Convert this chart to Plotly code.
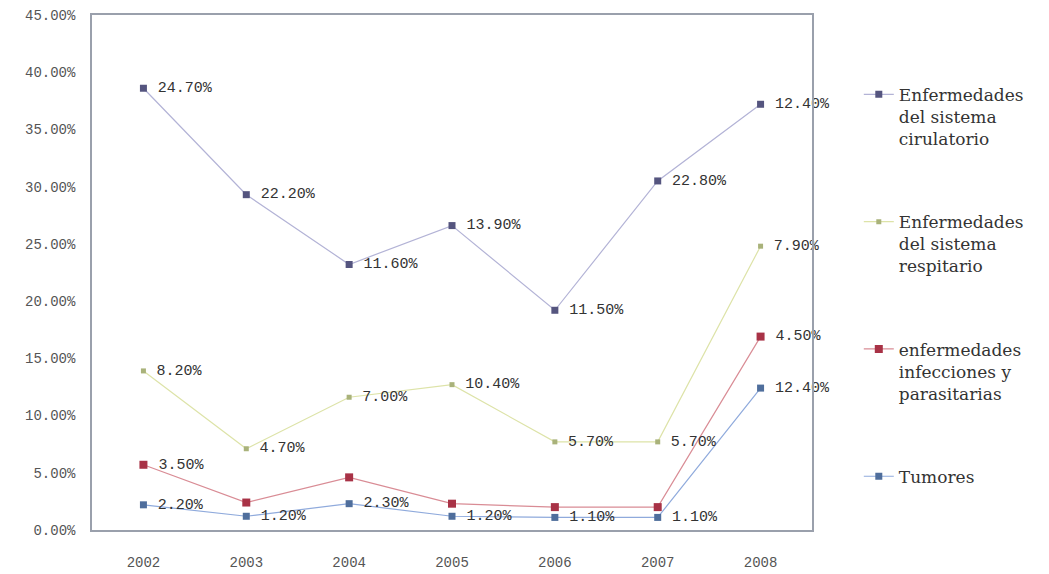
import plotly.graph_objects as go

years = ["2002", "2003", "2004", "2005", "2006", "2007", "2008"]
tumores = [2.2, 1.2, 2.3, 1.2, 1.1, 1.1, 12.4]
infecciones = [3.5, 1.2, 2.3, 1.1, 0.9, 0.9, 4.5]
respiratorio = [8.2, 4.7, 7.0, 10.4, 5.7, 5.7, 7.9]
circulatorio = [24.7, 22.2, 11.6, 13.9, 11.5, 22.8, 12.4]

# which points show a data label (infecciones only at the ends)
inf_labels = [True, False, False, False, False, False, True]

series = [
    ("Tumores", tumores, "#8FAADC", "#4F6E9C", 7, [True] * 7),
    ("enfermedades<br>infecciones y<br>parasitarias", infecciones, "#D98C95", "#A83246", 8, inf_labels),
    ("Enfermedades<br>del sistema<br>respitario", respiratorio, "#DDE3A8", "#A9B27A", 5, [True] * 7),
    ("Enfermedades<br>del sistema<br>cirulatorio", circulatorio, "#B3B3D6", "#55557F", 7, [True] * 7),
]

fig = go.Figure()
for i, (name, vals, lc, mc, ms, show) in enumerate(series):
    fig.add_trace(go.Scatter(
        x=years,
        y=[v / 100 for v in vals],
        name=name,
        stackgroup="s",
        fill="none",
        legendgroup=f"g{i}",
        legendrank=len(series) - i,
        mode="lines+markers+text",
        line=dict(color=lc, width=1.2),
        marker=dict(color=mc, size=ms, symbol="square"),
        text=[f" {v:.2f}%" if s else "" for v, s in zip(vals, show)],
        textposition="middle right",
        textfont=dict(family="Liberation Mono", size=15, color="#333333"),
        cliponaxis=False,
    ))

fig.update_layout(
    width=1049, height=574,
    margin=dict(l=84, r=245, t=7, b=52, autoexpand=False),
    paper_bgcolor="white",
    plot_bgcolor="white",
    showlegend=True,
    legend=dict(
        x=1.065, y=0.88, xanchor="left", yanchor="top",
        traceorder="grouped",
        tracegroupgap=58,
        valign="top",
        font=dict(family="DejaVu Serif", size=17, color="#333333"),
        bgcolor="rgba(0,0,0,0)",
    ),
    xaxis=dict(
        type="category",
        range=[-0.5, 6.5],
        automargin=False,
        showline=True, linecolor="#9AA0AC", linewidth=1.5, mirror=True,
        showgrid=False, ticks="",
        tickfont=dict(family="Liberation Mono", size=14, color="#555555"),
        ticklabelstandoff=18,
        ticklabeloverflow="allow",
    ),
    yaxis=dict(
        range=[0, 0.45],
        dtick=0.05,
        tickformat=".2%",
        automargin=False,
        showline=True, linecolor="#9AA0AC", linewidth=1.5, mirror=True,
        showgrid=False, zeroline=False, ticks="",
        tickfont=dict(family="Liberation Mono", size=14, color="#555555"),
        ticklabelstandoff=12,
        ticklabeloverflow="allow",
    ),
)

fig.write_html("out.html")
